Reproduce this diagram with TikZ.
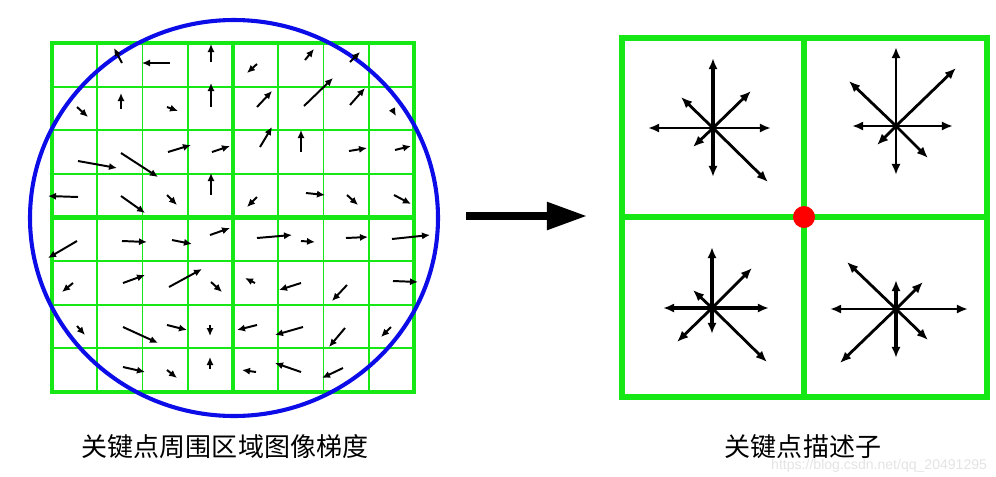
\documentclass[tikz,border=0pt]{standalone}
\usepackage{fontspec}
\newfontfamily\cjk{Noto Sans CJK SC}
\newfontfamily\wmfont{Liberation Sans}
\usepackage{xcolor}
\usepackage{tikz}
\usetikzlibrary{positioning, calc}
\usetikzlibrary{arrows.meta}
\definecolor{sgreen}{RGB}{22,232,22}
\definecolor{sblue}{RGB}{12,12,232}

\begin{document}
\begin{tikzpicture}[x=0.025cm, y=-0.025cm]
        \tikzset{cellline/.style = {sgreen, line width=1.3pt}}
        \tikzset{quadline/.style = {sgreen, line width=3.4pt}}
        \tikzset{grad/.style = {-{Latex[length=2mm, width=1.8mm]}, line width=1.4pt}}
        \tikzset{bin/.style = {-{Latex[length=2.8mm, width=2.3mm]}, line width=2pt}}
        \tikzset{caption/.style = {font=\cjk\fontsize{18.5}{22}\selectfont}}
        \useasboundingbox (0,0) rectangle (996,476);

        % gradient window
        \foreach \i in {1,...,7} {
            \draw[cellline] ({52+45.25*\i},43) -- ({52+45.25*\i},392);
            \draw[cellline] (52,{43+43.625*\i}) -- (414,{43+43.625*\i});
        }
        \draw[quadline] (52,43) rectangle (414,392);
        \draw[quadline] (233,43) -- (233,392);
        \draw[quadline] (52,217.5) -- (414,217.5);
        \draw[sblue, line width=2.9pt] (234,218) ellipse (204 and 198);

        % gradients
        \foreach \a/\b/\c/\d in {122/63/114/48, 170/63/142/63, 211/62/211/44,
            77/107/88/117, 121/109/121/93, 167/107/178/111, 211/107/211/83,
            78/161/117/168, 121/153/158/177, 168/152/191/145, 212/152/230/146,
            78/197/48/196, 121/196/145/213, 167/195/177/205, 211/195/211/173,
            257/64/247/73, 305/60/314/49, 350/62/360/52,
            257/107/272/91, 304/106/333/78, 350/105/365/88, 392/109/396/116,
            260/147/272/127, 301/152/301/130, 349/151/367/148, 395/150/411/146,
            257/197/247/207, 306/193/325/195, 347/195/358/205, 394/195/411/204,
            77/241/48/258, 122/241/147/242, 172/240/192/244, 210/235/230/228,
            73/283/62/292, 123/283/145/275, 169/287/202/269, 211/282/222/292,
            77/326/85/335, 123/327/158/343, 167/325/187/330, 210/325/210/336,
            123/367/145/372, 167/370/177/378, 210/369/210/357,
            257/238/292/235, 301/241/315/242, 346/238/368/237, 392/239/430/235,
            255/283/245/278, 301/283/279/290, 347/285/332/301, 393/281/418/282,
            257/325/237/330, 303/327/275/335, 345/328/329/347, 391/327/381/337,
            256/372/242/370, 301/372/275/363, 343/368/322/378}
            \draw[grad] (\a,\b) -- (\c,\d);

        % big arrow
        \coordinate (from) at (466,216);
        \coordinate (to) at (587,216);
        \draw[-{Triangle[length=1cm, width=0.66cm]}, line width=5pt] (from) -- (to);

        % descriptor
        \draw[sgreen, line width=4.2pt] (622,38) rectangle (987,397);
        \draw[sgreen, line width=4.2pt] (804,38) -- (804,397);
        \draw[sgreen, line width=4.2pt] (622,217) -- (987,217);

        \coordinate (h1v1) at (713,128);
        \coordinate (h2v1) at (896,126);
        \coordinate (h1v2) at (712,308);
        \coordinate (h2v2) at (896,309);

        \foreach \u/\v/\w in {0/-70/2.6, 0/49/2.6, -65/0/2, 58/0/2, 38/-37/2, -32/-31/2, -20/19/2, 55/54/2}
            \draw[bin, line width=\w pt] (h1v1) -- ($(h1v1) + (\u,\v)$);
        \foreach \u/\v/\w in {0/-79/2, 0/49/2, -44/0/2, 57/0/2, 60/-58/2, -47/-45/2, -19/19/2, 32/32/2}
            \draw[bin, line width=\w pt] (h2v1) -- ($(h2v1) + (\u,\v)$);
        \foreach \u/\v/\w in {0/-61/2.4, 0/26/2.4, -49/0/2.4, 57/0/2.4, 40/-40/2, -19/-18/2, -35/34/2, 55/54/2}
            \draw[bin, line width=\w pt] (h1v2) -- ($(h1v2) + (\u,\v)$);
        \foreach \u/\v/\w in {0/-29/2.6, 0/49/2.6, -66/0/2, 72/0/2, 27/-27/2, -49/-47/2, -56/54/2, 32/31/2}
            \draw[bin, line width=\w pt] (h2v2) -- ($(h2v2) + (\u,\v)$);

        \fill[red] (804,217) circle (11);

        % captions
        \node[caption] (lcap) at (225,447) {关键点周围区域图像梯度};
        \node[caption] (rcap) at (803,447) {关键点描述子};
        \node[anchor=east, text=gray!22, font=\wmfont\fontsize{10}{12}\selectfont] (mark) at (992,466) {https://blog.csdn.net/qq\_20491295};

    \end{tikzpicture}
\end{document}
